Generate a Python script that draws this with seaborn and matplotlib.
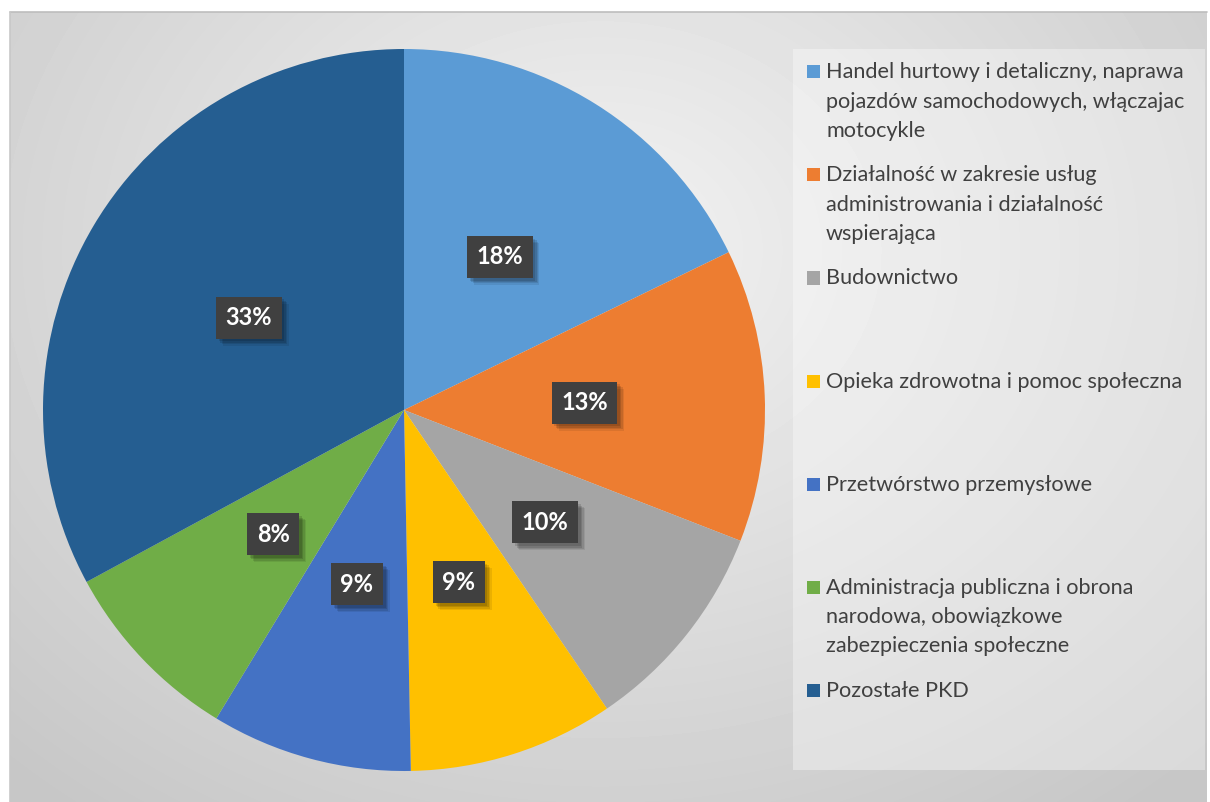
import numpy as np
import matplotlib
matplotlib.use("Agg")
import matplotlib.pyplot as plt
import matplotlib.patheffects as pe
from matplotlib.patches import Rectangle
from matplotlib.path import Path
import seaborn as sns

categories = [
    "Handel hurtowy i detaliczny, naprawa\npojazdów samochodowych, włączajac\nmotocykle",
    "Działalność w zakresie usług\nadministrowania i działalność\nwspierająca",
    "Budownictwo",
    "Opieka zdrowotna i pomoc społeczna",
    "Przetwórstwo przemysłowe",
    "Administracja publiczna i obrona\nnarodowa, obowiązkowe\nzabezpieczenia społeczne",
    "Pozostałe PKD",
]
shares = [17.8, 13.1, 9.6, 9.2, 9.0, 8.4, 32.9]
palette = ["#5B9BD5", "#ED7D31", "#A5A5A5", "#FFC000", "#4472C4", "#70AD47", "#255E91"]

sns.set_theme(style="white")
plt.rcParams['font.family'] = ['Lato', 'DejaVu Sans']

W, H = 1210, 802
fig = plt.figure(figsize=(W / 100, H / 100), dpi=100)
fig.patch.set_facecolor('white')

# ---- background chart area with radial gradient ----
x0, x1, ytop = 10, 1207, 12
bg = fig.add_axes([x0 / W, 0, (x1 - x0) / W, (H - ytop) / H])
gx = np.arange(x0, x1)
gy = np.arange(ytop, H)
XX, YY = np.meshgrid(gx, gy)
r = np.sqrt(((XX - 600) / 760.0) ** 2 + ((YY - 250) / 620.0) ** 2)
r = np.clip(r, 0, 1.15)
img = 0.95 - 0.15 * r
bg.imshow(img, cmap='gray', vmin=0, vmax=1, aspect='auto', interpolation='bilinear')
bg.set_axis_off()

fig.add_artist(plt.Line2D([x0 / W, x1 / W], [(H - ytop) / H] * 2, color='#bdbdbd', lw=1.2))
fig.add_artist(plt.Line2D([x0 / W] * 2, [0, (H - ytop) / H], color='#c8c8c8', lw=1.2))


def label_box(x0, y0, width, height, mutation_size):
    px, py = 0.36 * mutation_size, 0.36 * mutation_size
    xa, ya = x0 - px, y0 - py
    xb, yb = x0 + width + px, y0 + height + py
    return Path([(xa, ya), (xb, ya), (xb, yb), (xa, yb), (xa, ya)], closed=True)


# ---- pie ----
cx, cy, rad = 404, 410, 361
ax = fig.add_axes([(cx - rad) / W, (H - cy - rad) / H, 2 * rad / W, 2 * rad / H])
ax.patch.set_alpha(0)
wedges, texts, autotexts = ax.pie(
    shares, colors=palette, startangle=90, counterclock=False,
    autopct='%.0f%%', pctdistance=0.5, radius=1.0,
    wedgeprops=dict(linewidth=0, edgecolor='none'),
)
ax.set_xlim(-1, 1)
ax.set_ylim(-1, 1)
ax.set_axis_off()
for t in autotexts:
    t.set_color('white')
    t.set_fontsize(17)
    t.set_fontweight('bold')
    t.set_bbox(dict(boxstyle='square,pad=0.4', facecolor='#404040', edgecolor='none', linewidth=0))
    t.get_bbox_patch().set_path_effects([
        pe.SimplePatchShadow(offset=(5, -5), shadow_rgbFace='black', alpha=0.08),
        pe.SimplePatchShadow(offset=(4, -4), shadow_rgbFace='black', alpha=0.1),
        pe.SimplePatchShadow(offset=(3, -3), shadow_rgbFace='black', alpha=0.12),
        pe.SimplePatchShadow(offset=(2, -2), shadow_rgbFace='black', alpha=0.12),
        pe.Normal(),
    ])

# ---- legend box ----
fig.add_artist(Rectangle((793 / W, (H - 770) / H), 412 / W, 721 / H,
                         transform=fig.transFigure, facecolor='white', alpha=0.35,
                         edgecolor='none'))
base0, step, lh = 78.3, 103.1, 29.2
for k, (lab, col) in enumerate(zip(categories, palette)):
    b = base0 + step * k
    fig.add_artist(Rectangle((807 / W, (H - b) / H), 13 / W, 13 / H,
                             transform=fig.transFigure, facecolor=col, edgecolor='none'))
    for j, line in enumerate(lab.split('\n')):
        fig.text(826 / W, (H - (b + j * lh)) / H, line, fontsize=15.6, color='#404040',
                 va='baseline', ha='left')

fig.savefig('out.png', dpi=100)
